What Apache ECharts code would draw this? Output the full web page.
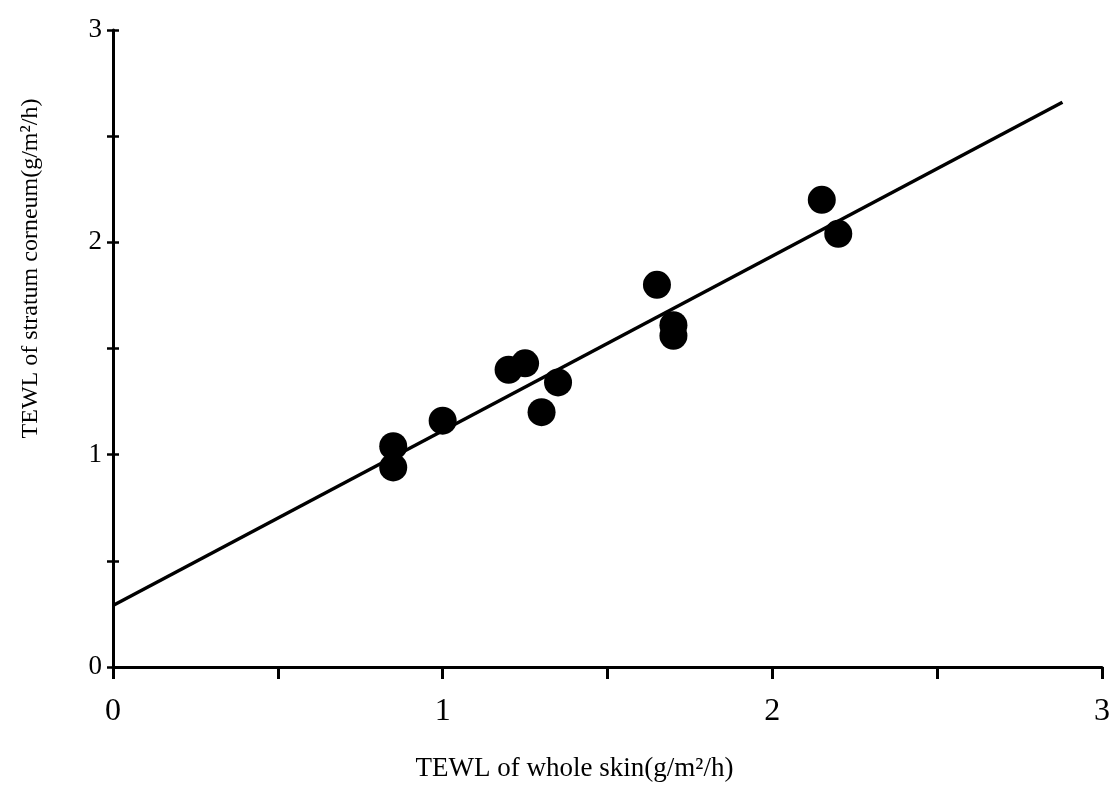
<!DOCTYPE html>
<html>
<head>
<meta charset="utf-8">
<script src="https://cdn.jsdelivr.net/npm/echarts@6/dist/echarts.min.js"></script>
<style>
html,body{margin:0;padding:0;background:#fff;}
#chart{width:1113px;height:792px;}
</style>
</head>
<body>
<div id="chart"></div>
<script>
// Data
const wholeSkin = [0.85, 0.85, 1.00, 1.20, 1.25, 1.35, 1.30, 1.65, 1.70, 1.70, 2.15, 2.20];
const stratumCorneum = [1.04, 0.94, 1.16, 1.40, 1.43, 1.34, 1.20, 1.80, 1.61, 1.56, 2.20, 2.04];
const fitX = [0, 2.88];
const fitY = [0.29, 2.66];
const xTitle = 'TEWL of whole skin(g/m²/h)';
const yTitle = 'TEWL of stratum corneum(g/m²/h)';

const points = wholeSkin.map((x, i) => [x, stratumCorneum[i]]);
const fitLine = fitX.map((x, i) => [x, fitY[i]]);

const chart = echarts.init(document.getElementById('chart'));
const axisCommon = {
  type: 'value', min: 0, max: 3, interval: 0.5,
  splitLine: { show: false }
};
chart.setOption({
  animation: false,
  backgroundColor: '#fff',
  grid: { left: 113, right: 10, top: 30, bottom: 125 },
  xAxis: Object.assign({}, axisCommon, {
    name: xTitle,
    nameLocation: 'middle',
    nameGap: 88,
    nameTextStyle: { fontFamily: 'Liberation Serif', fontSize: 27, color: '#000', padding: [0, 66, 0, 0] },
    axisLine: { lineStyle: { color: '#000', width: 3 } },
    axisTick: { inside: false, length: 12, lineStyle: { color: '#000', width: 3 } },
    axisLabel: {
      margin: 29, color: '#000', fontFamily: 'Liberation Serif', fontSize: 32,
      formatter: v => (Number.isInteger(v) ? String(v) : '')
    }
  }),
  yAxis: [
    Object.assign({}, axisCommon, {
      name: yTitle,
      nameLocation: 'middle',
      nameGap: 70,
      nameRotate: 90,
      nameTextStyle: { fontFamily: 'Liberation Serif', fontSize: 24, color: '#000', padding: [0, 0, 0, 160] },
      axisLine: { lineStyle: { color: '#000', width: 3 } },
      axisTick: { inside: false, length: 6, lineStyle: { color: '#000', width: 2.5 } },
      axisLabel: {
        margin: 11, color: '#000', fontFamily: 'Liberation Serif', fontSize: 27,
        formatter: v => (Number.isInteger(v) ? String(v) : '')
      }
    }),
    Object.assign({}, axisCommon, {
      position: 'left',
      axisLine: { show: false },
      axisTick: { show: true, inside: true, length: 6, lineStyle: { color: '#000', width: 2.5 } },
      axisLabel: { show: false }
    })
  ],
  series: [
    {
      type: 'line',
      data: fitLine,
      showSymbol: false,
      symbol: 'none',
      lineStyle: { color: '#000', width: 3.5 },
      z: 2
    },
    {
      type: 'scatter',
      data: points,
      symbol: 'circle',
      symbolSize: 28,
      itemStyle: { color: '#000', opacity: 1 },
      z: 3
    }
  ]
});
</script>
</body>
</html>
